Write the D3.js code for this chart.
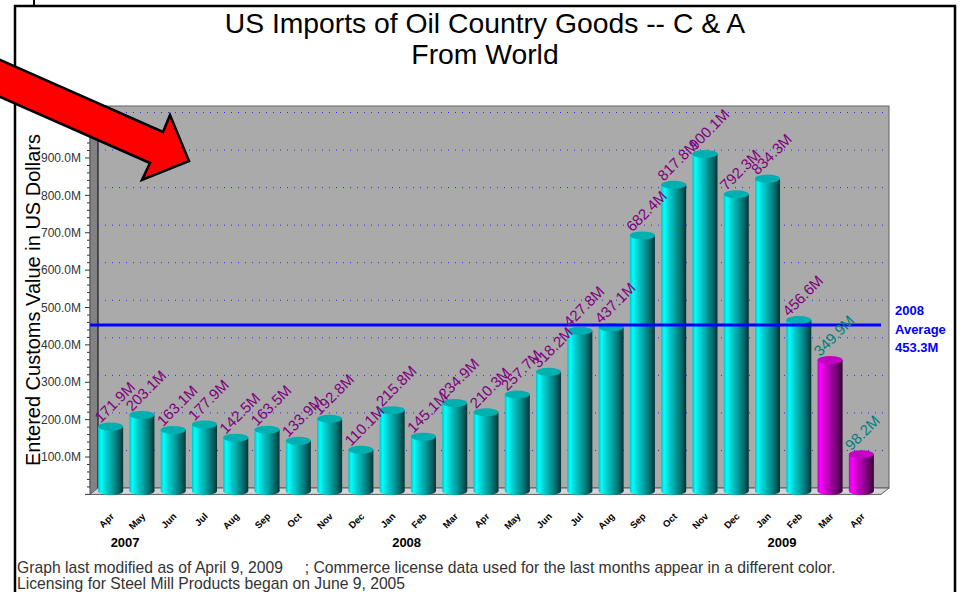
<!DOCTYPE html>
<html>
<head>
<meta charset="utf-8">
<script src="https://cdn.jsdelivr.net/npm/d3@7"></script>
<style>
  body { margin: 0; background: #fff; }
  svg { display: block; font-family: "Liberation Sans", Arial, sans-serif; }
</style>
</head>
<body>
<script>
// chart data
const months = ["Apr","May","Jun","Jul","Aug","Sep","Oct","Nov","Dec",
                "Jan","Feb","Mar","Apr","May","Jun","Jul","Aug","Sep","Oct","Nov","Dec",
                "Jan","Feb","Mar","Apr"]
const barYears = [2007,2007,2007,2007,2007,2007,2007,2007,2007,
                  2008,2008,2008,2008,2008,2008,2008,2008,2008,2008,2008,2008,
                  2009,2009,2009,2009]
const values = [171.9, 203.1, 163.1, 177.9, 142.5, 163.5, 133.9, 192.8, 110.1,
                215.8, 145.1, 234.9, 210.3, 257.7, 318.2, 427.8, 437.1, 682.4, 817.8, 900.1, 792.3,
                834.3, 456.6, 349.9, 98.2]
// last months come from commerce license data
const source = values.map((v, i) => i >= 23 ? "license" : "customs")
const yTicks = [100, 200, 300, 400, 500, 600, 700, 800, 900]
const gridTicks = [100, 200, 300, 400, 500, 600, 700, 800, 900, 1000]
const average2008 = 453.3
const avgLabel = ["2008", "Average", "453.3M"]
const titleLines = ["US Imports of Oil Country Goods -- C & A", "From World"]
const yTitle = "Entered Customs Value in US Dollars"
const footLines = ["Graph last modified as of April 9, 2009\u00a0\u00a0\u00a0\u00a0\u00a0; Commerce license data used for the last months appear in a different color.",
                   "Licensing for Steel Mill Products began on June 9, 2005"]

const width = 961, height = 592
const svg = d3.select("body").append("svg")
    .attr("width", width)
    .attr("height", height)

// frames
svg.append("line").attr("x1", 34).attr("y1", 0).attr("x2", 34).attr("y2", 6)
    .attr("stroke", "#000").attr("stroke-width", 2)
svg.append("rect").attr("x", 15).attr("y", 6).attr("width", 940).attr("height", 600)
    .attr("fill", "#fff").attr("stroke", "#000").attr("stroke-width", 2.5)

// 3d plot box: front plane, back plane
const depthX = 8, depthY = 7
const plotLeft = 90, plotRight = 889, plotTop = 106
const yFront = d3.scaleLinear().domain([0, 1000]).range([494.4, 120.6])
const yBack = d3.scaleLinear().domain([0, 1000]).range([488, 112.5])
const yMid = d3.scaleLinear().domain([0, 1000]).range([491, 116.5])

const keys = months.map((m, i) => m + " " + barYears[i])
const x = d3.scaleBand().domain(keys).range([95, 877]).paddingInner(0.2).paddingOuter(0.1)

// back wall
svg.append("rect").attr("x", plotLeft).attr("y", plotTop)
    .attr("width", plotRight - plotLeft).attr("height", yBack(0) - plotTop)
    .attr("fill", "#aaaaaa").attr("stroke", "#606060")
// left wall
svg.append("polygon")
    .attr("points", [[plotLeft, plotTop + depthY], [plotLeft + depthX, plotTop], [plotLeft + depthX, yBack(0)], [plotLeft, yFront(0)]].join(" "))
    .attr("fill", "#828282")
svg.append("line").attr("x1", plotLeft + depthX).attr("x2", plotLeft + depthX)
    .attr("y1", yBack(1000)).attr("y2", yBack(0)).attr("stroke", "#000")
// floor
svg.append("polygon")
    .attr("points", [[plotLeft, yFront(0)], [plotRight - depthX, yFront(0)], [plotRight, yBack(0)], [plotLeft + depthX, yBack(0)]].join(" "))
    .attr("fill", "#d6d6d6").attr("stroke", "#5a5a6a")

// grid lines on back wall
svg.selectAll(".grid")
    .data(gridTicks)
    .join("line")
    .attr("class", "grid")
    .attr("x1", plotLeft + depthX).attr("x2", plotRight - 2)
    .attr("y1", d => yBack(d)).attr("y2", d => yBack(d))
    .attr("stroke", "#2828ff").attr("stroke-dasharray", "1,6")

// y axis ticks on front plane
const minor = d3.range(0, 1001, 20)
svg.selectAll(".minor")
    .data(minor)
    .join("line")
    .attr("class", "minor")
    .attr("x1", d => d % 100 === 0 ? plotLeft - 5 : plotLeft - 3).attr("x2", plotLeft)
    .attr("y1", d => yFront(d)).attr("y2", d => yFront(d))
    .attr("stroke", "#333")
svg.append("line").attr("x1", plotLeft).attr("x2", plotLeft)
    .attr("y1", plotTop + depthY).attr("y2", yFront(0)).attr("stroke", "#555")

svg.selectAll(".ytick")
    .data(yTicks)
    .join("text")
    .attr("class", "ytick")
    .attr("x", 81)
    .attr("y", d => yFront(d))
    .attr("dy", "0.35em")
    .attr("text-anchor", "end")
    .attr("font-size", 12)
    .attr("fill", "#333")
    .text(d => d.toFixed(1) + "M")

// gradients for the cylinders
const defs = svg.append("defs")
function cylGradient(id, stops) {
    const g = defs.append("linearGradient").attr("id", id)
        .attr("x1", "0%").attr("x2", "100%").attr("y1", "0%").attr("y2", "0%")
    stops.forEach(s => g.append("stop").attr("offset", s[0]).attr("stop-color", s[1]))
}
cylGradient("cyan", [["0%", "#00c4c4"], ["12%", "#00ffff"], ["30%", "#00d2d2"], ["55%", "#00a2a2"], ["80%", "#006a6a"], ["100%", "#003434"]])
cylGradient("magenta", [["0%", "#c400c4"], ["12%", "#ff00ff"], ["30%", "#d200d2"], ["55%", "#a000a0"], ["80%", "#680068"], ["100%", "#340034"]])
const fills = { customs: "url(#cyan)", license: "url(#magenta)" }
const topFills = { customs: "#00b0b0", license: "#c400c4" }
const labelColors = { customs: "#800080", license: "#008080" }

const bars = values.map((v, i) => ({ key: keys[i], value: v, src: source[i], month: months[i], year: barYears[i], i: i }))
const bw = x.bandwidth(), ry = 4

const g = svg.selectAll(".bar")
    .data(bars)
    .join("g")
    .attr("class", "bar")
g.append("ellipse")
    .attr("cx", d => x(d.key) + bw / 2).attr("cy", yMid(0))
    .attr("rx", bw / 2).attr("ry", ry)
    .attr("fill", d => fills[d.src])
g.append("rect")
    .attr("x", d => x(d.key)).attr("y", d => yMid(d.value))
    .attr("width", bw).attr("height", d => yMid(0) - yMid(d.value))
    .attr("fill", d => fills[d.src])
g.append("ellipse")
    .attr("cx", d => x(d.key) + bw / 2).attr("cy", d => yMid(d.value))
    .attr("rx", bw / 2).attr("ry", ry)
    .attr("fill", d => topFills[d.src])

// average line
svg.append("line")
    .attr("x1", plotLeft).attr("x2", plotRight - depthX)
    .attr("y1", yFront(average2008)).attr("y2", yFront(average2008))
    .attr("stroke", "#0000ff").attr("stroke-width", 3)
svg.selectAll(".avg")
    .data(avgLabel)
    .join("text")
    .attr("class", "avg")
    .attr("x", 895)
    .attr("y", (d, i) => 315 + i * 18.5)
    .attr("font-size", 13).attr("font-weight", "bold")
    .attr("fill", "#0000ff")
    .text(d => d)

// value labels
svg.selectAll(".val")
    .data(bars)
    .join("text")
    .attr("class", "val")
    .attr("transform", d => `translate(${x(d.key) + bw / 2 - 10},${yMid(d.value) - 3}) rotate(-45)`)
    .attr("font-size", 15)
    .attr("fill", d => labelColors[d.src])
    .text(d => d.value.toFixed(1) + "M")

// month labels
svg.selectAll(".month")
    .data(bars)
    .join("text")
    .attr("class", "month")
    .attr("transform", d => `translate(${x(d.key) + bw / 2 + 4},517) rotate(-45)`)
    .attr("text-anchor", "end")
    .attr("font-size", 9.5).attr("font-weight", "bold")
    .text(d => d.month)

// year labels under first month of each year
svg.selectAll(".year")
    .data(bars.filter((d, i) => i === 0 || d.year !== barYears[i - 1]))
    .join("text")
    .attr("class", "year")
    .attr("x", d => x(d.key) + bw / 2)
    .attr("y", 547)
    .attr("font-size", 13).attr("font-weight", "bold")
    .text(d => d.year)

// axis title
svg.append("text")
    .attr("transform", "translate(40,300) rotate(-90)")
    .attr("text-anchor", "middle")
    .attr("font-size", 20)
    .text(yTitle)

// title
svg.selectAll(".title")
    .data(titleLines)
    .join("text")
    .attr("class", "title")
    .attr("x", 485)
    .attr("y", (d, i) => 33 + i * 31)
    .attr("text-anchor", "middle")
    .attr("font-size", 28.3)
    .text(d => d)

// footnote
svg.selectAll(".foot")
    .data(footLines)
    .join("text")
    .attr("class", "foot")
    .attr("x", 17)
    .attr("y", (d, i) => 573 + i * 15.5)
    .attr("font-size", 15.7)
    .attr("fill", "#333")
    .text(d => d)

// red arrow pointing into the chart
svg.append("polygon")
    .attr("points", [[-20, 51], [163, 132], [170, 115], [189, 161], [142, 180], [150, 163], [-20, 88]].join(" "))
    .attr("fill", "#ff0000").attr("stroke", "#000").attr("stroke-width", 2.5)
    .attr("stroke-linejoin", "miter")
</script>
</body>
</html>
